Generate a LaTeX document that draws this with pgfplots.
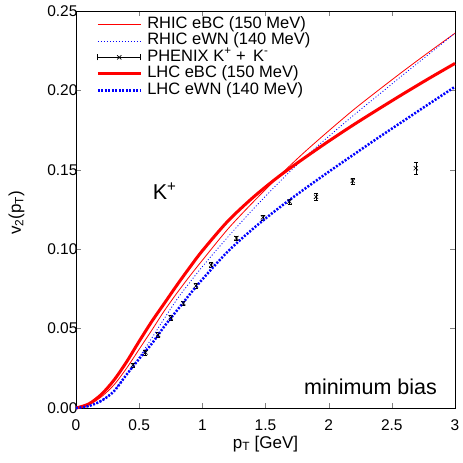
\documentclass[border=0pt]{standalone}
\usepackage{fontspec}
\setmainfont{Liberation Sans}
\usepackage{pgfplots}
\pgfplotsset{compat=1.18}

% RHIC / LHC hydro curves, v2(pT) of K+
\pgfplotstableread{
pt   v2
0.0  0.000
0.1  0.002
0.2  0.007
0.3  0.0145
0.4  0.025
0.5  0.037
0.6  0.049
0.7  0.0613
0.8  0.0725
0.9  0.083
1.0  0.093
1.2  0.1125
1.4  0.1295
1.6  0.1455
1.8  0.1605
2.0  0.1745
2.2  0.188
2.4  0.2005
2.6  0.2127
2.8  0.2245
3.0  0.236
}\rhicebc
\pgfplotstableread{
pt   v2
0.0  0.000
0.1  0.001
0.2  0.0045
0.3  0.011
0.4  0.021
0.5  0.032
0.6  0.044
0.7  0.0565
0.8  0.0685
0.9  0.079
1.0  0.089
1.2  0.1075
1.4  0.125
1.6  0.1415
1.8  0.157
2.0  0.171
2.2  0.1845
2.4  0.1975
2.6  0.2105
2.8  0.2232
3.0  0.236
}\rhicewn
\pgfplotstableread{
pt   v2
0.0  0.000
0.1  0.0025
0.2  0.0085
0.3  0.0175
0.4  0.029
0.5  0.042
0.6  0.0545
0.7  0.066
0.8  0.0775
0.9  0.0885
1.0  0.099
1.2  0.1175
1.4  0.1325
1.6  0.1455
1.8  0.157
2.0  0.168
2.2  0.1785
2.4  0.1885
2.6  0.1983
2.8  0.2078
3.0  0.217
}\lhcebc
\pgfplotstableread{
pt   v2
0.0  0.000
0.1  0.0012
0.2  0.0045
0.3  0.0105
0.4  0.021
0.5  0.031
0.6  0.0405
0.7  0.0515
0.8  0.0615
0.9  0.0715
1.0  0.081
1.2  0.0984
1.4  0.1128
1.6  0.1256
1.8  0.1374
2.0  0.1487
2.2  0.1597
2.4  0.1706
2.6  0.1812
2.8  0.1918
3.0  0.2023
}\lhcewn
\pgfplotstableread{
pt   v2     err
0.45 0.027  0.0015
0.55 0.035  0.0015
0.65 0.046  0.0015
0.75 0.057  0.0015
0.85 0.066  0.0015
0.95 0.077  0.0015
1.07 0.090  0.0015
1.27 0.107  0.0015
1.48 0.120  0.0015
1.69 0.130  0.0015
1.90 0.133  0.002
2.19 0.143  0.002
2.69 0.151  0.004
}\phenix

\begin{document}
\begin{tikzpicture}[font=\fontsize{16.5}{19}\selectfont]
\begin{axis}[
    scale only axis,
    width=379pt, height=397pt,
    xmin=0, xmax=3, ymin=0, ymax=0.25,
    xtick={0,0.5,1,1.5,2,2.5,3},
    ytick={0,0.05,0.10,0.15,0.20,0.25},
    tick label style={font=\fontsize{15.5}{18}\selectfont},
    xticklabel style={yshift=-8pt},
    yticklabel style={xshift=5pt, /pgf/number format/.cd, fixed, fixed zerofill, precision=2},
    /pgf/number format/assume math mode=true,
    tick align=inside, major tick length=5pt,
    axis line style={line width=0.8pt},
    xlabel={p\textsubscript{T} [GeV]},
    ylabel={v\textsubscript{2}(p\textsubscript{T})},
    label style={font=\fontsize{17}{20}\selectfont},
    xlabel style={at={(axis description cs:0.5,-0.09)}, anchor=center},
    ylabel style={at={(axis description cs:-0.157,0.492)}, anchor=center},
    legend cell align={left},
    legend style={at={(rel axis cs:0.045,0.99)}, anchor=north west, draw=none, fill=none,
        font=\fontsize{16.5}{19}\selectfont,
        nodes={inner sep=0pt, text height=11pt, text depth=3.5pt, font=\fontsize{16.5}{19}\selectfont},
        row sep=2pt, column sep=5pt},
    legend image code/.code={\draw (0pt,0pt) -- (43pt,0pt);},
    clip=false,
    ]
\addplot[red, line width=0.8pt, smooth] table {\rhicebc};
\addlegendentry{RHIC eBC (150 MeV)}
\addplot[blue, line width=0.8pt, dash pattern=on 1pt off 2pt, smooth] table {\rhicewn};
\addlegendentry{RHIC eWN (140 MeV)}
\addplot[black, only marks, mark=x, mark size=3pt, line width=0.6pt,
    legend image code/.code={
        \draw[line width=0.6pt] (0pt,0pt) -- (43pt,0pt);
        \draw[line width=0.6pt] (0pt,-3pt) -- (0pt,3pt);
        \draw[line width=0.6pt] (43pt,-3pt) -- (43pt,3pt);
        \draw[only marks, mark=x, mark size=3pt] plot coordinates {(21.5pt,0pt)};},
    error bars/.cd, y dir=both, y explicit,
    error mark options={rotate=90, mark size=2pt, black}]
    table[x=pt, y=v2, y error=err] {\phenix};
\addlegendentry{PHENIX K\textsuperscript{+} +\, K\textsuperscript{-}}
\addplot[red, line width=3pt, smooth] table {\lhcebc};
\addlegendentry{LHC eBC (150 MeV)}
\addplot[blue, line width=2.5pt, dash pattern=on 2pt off 1.5pt, smooth] table {\lhcewn};
\addlegendentry{LHC eWN (140 MeV)}
\node[anchor=base west, inner sep=0pt, font=\fontsize{21.5}{25}\selectfont]
    at (axis cs:0.607,0.1314) {K\textsuperscript{+}};
\node[anchor=base west, inner sep=0pt, font=\fontsize{21.5}{25}\selectfont]
    at (axis cs:1.805,0.0082) {minimum bias};
\end{axis}
\path (current axis.south west) ++(-76pt,-55pt) rectangle ([shift={(6pt,11pt)}]current axis.north east);
\end{tikzpicture}
\end{document}
